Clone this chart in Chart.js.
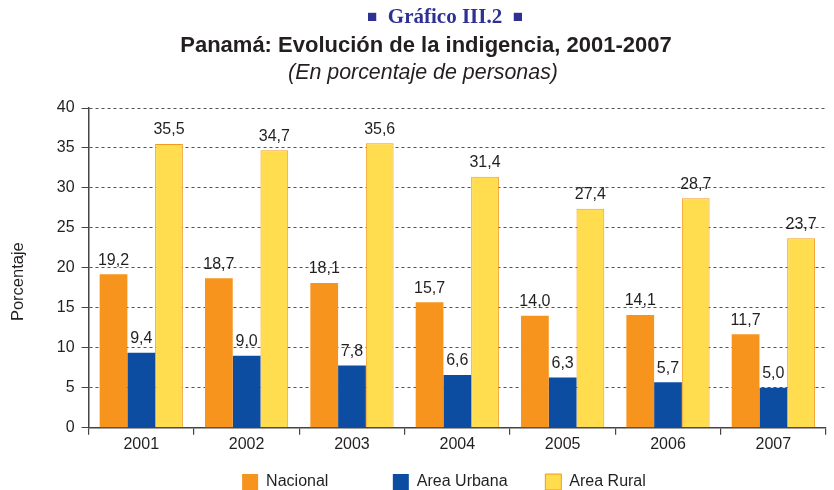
<!DOCTYPE html>
<html>
<head>
<meta charset="utf-8">
<script src="https://cdn.jsdelivr.net/npm/chart.js@4"></script>
<style>
  html,body{margin:0;padding:0;background:#fff;overflow:hidden;}
  #wrap{position:relative;width:834px;height:490px;overflow:hidden;}
  canvas{position:absolute;left:0;top:0;}
  .t{position:absolute;left:0;width:834px;text-align:center;white-space:nowrap;}
  #t0{top:4px;left:28px;font-family:"Liberation Serif","DejaVu Serif",serif;font-weight:bold;font-size:21px;color:#2E3192;}
  #t0 .sq{font-size:17px;vertical-align:1px;}
  #t1{top:32px;left:9px;font-family:"Liberation Sans",Arial,sans-serif;font-weight:bold;font-size:22px;color:#231F20;}
  #t2{top:60px;left:6px;font-family:"Liberation Sans",Arial,sans-serif;font-style:italic;font-size:21.4px;color:#231F20;}
</style>
</head>
<body>
<div id="wrap">
  <canvas id="c" width="834" height="500"></canvas>
  <div class="t" id="t0"><span class="sq">■</span>&nbsp; Gráfico III.2 &nbsp;<span class="sq">■</span></div>
  <div class="t" id="t1">Panamá: Evolución de la indigencia, 2001-2007</div>
  <div class="t" id="t2">(En porcentaje de personas)</div>
</div>
<script>
const categories = ['2001','2002','2003','2004','2005','2006','2007'];
const nacional = [19.2, 18.7, 18.1, 15.7, 14.0, 14.1, 11.7];
const urbana   = [9.4, 9.0, 7.8, 6.6, 6.3, 5.7, 5.0];
const rural    = [35.5, 34.7, 35.6, 31.4, 27.4, 28.7, 23.7];
const seriesNames = ['Nacional', 'Area Urbana', 'Area Rural'];
const yTicks = [0, 5, 10, 15, 20, 25, 30, 35, 40];

const FONT = '"Liberation Sans", Arial, sans-serif';
const LEG_PAD = 20;

const valueLabels = {
  id: 'valueLabels',
  afterDatasetsDraw(chart) {
    const ctx = chart.ctx;
    ctx.save();
    ctx.font = '16px ' + FONT;
    ctx.fillStyle = '#231F20';
    ctx.textAlign = 'center';
    ctx.textBaseline = 'bottom';
    chart.data.datasets.forEach((ds, i) => {
      const meta = chart.getDatasetMeta(i);
      meta.data.forEach((bar, j) => {
        const v = ds.data[j];
        ctx.fillText(v.toFixed(1).replace('.', ','), bar.x, bar.y - 6);
      });
    });
    ctx.restore();
  }
};

const measureCtx = document.createElement('canvas').getContext('2d');
measureCtx.font = '16px ' + FONT;
function padText(t, target) {
  let s = t;
  while (measureCtx.measureText(s).width < target) s += '\u00A0';
  return s;
}

new Chart(document.getElementById('c'), {
  type: 'bar',
  data: {
    labels: categories,
    datasets: [
      { label: seriesNames[0], data: nacional, backgroundColor: '#F7941D', borderWidth: 0 },
      { label: seriesNames[1], data: urbana, backgroundColor: '#0D4DA1', borderWidth: 0 },
      { label: seriesNames[2], data: rural, backgroundColor: '#FFDD4F', borderColor: '#F39A1E', borderWidth: 1, borderSkipped: 'bottom' }
    ]
  },
  options: {
    responsive: false,
    animation: false,
    devicePixelRatio: 1,
    layout: { padding: { top: 108, right: 8, left: 9, bottom: 0 } },
    datasets: { bar: { categoryPercentage: 0.79, barPercentage: 1.0 } },
    plugins: {
      legend: {
        position: 'bottom',
        fullSize: false,
        labels: {
          font: { family: FONT, size: 16 },
          color: '#231F20',
          boxWidth: 16,
          boxHeight: 16,
          padding: LEG_PAD,
          generateLabels(chart) {
            return chart.data.datasets.map((ds, i) => ({
              text: i < 2 ? padText(ds.label, 150 - LEG_PAD - 16 - 8)
                          : padText(ds.label, measureCtx.measureText(ds.label).width + 24),
              fillStyle: ds.backgroundColor,
              strokeStyle: ds.borderColor || ds.backgroundColor,
              lineWidth: ds.borderWidth || 0,
              datasetIndex: i,
              fontColor: '#231F20'
            }));
          }
        }
      },
      tooltip: { enabled: false },
      title: { display: false }
    },
    scales: {
      x: {
        offset: true,
        grid: {
          display: true,
          offset: true,
          drawOnChartArea: false,
          drawTicks: true,
          tickLength: 7,
          color: '#444',
          lineWidth: 1.2
        },
        border: { display: true, color: '#444', width: 1.5 },
        ticks: { font: { family: FONT, size: 16 }, color: '#231F20', padding: 0 }
      },
      y: {
        min: 0, max: 40,
        afterBuildTicks(axis) { axis.ticks = yTicks.map(v => ({ value: v })); },
        grid: {
          color: '#555',
          lineWidth: 1,
          tickBorderDash: [],
          tickLength: 7,
          tickColor: '#444',
          drawTicks: true
        },
        border: { display: true, color: '#444', width: 1.5, dash: [3, 3] },
        ticks: { font: { family: FONT, size: 16 }, color: '#231F20', padding: 7 },
        title: { display: true, text: 'Porcentaje' + '\u00A0'.repeat(6), font: { family: FONT, size: 16.5 }, color: '#231F20', padding: { top: 0, bottom: 21 } }
      }
    }
  },
  plugins: [valueLabels]
});
</script>
</body>
</html>
